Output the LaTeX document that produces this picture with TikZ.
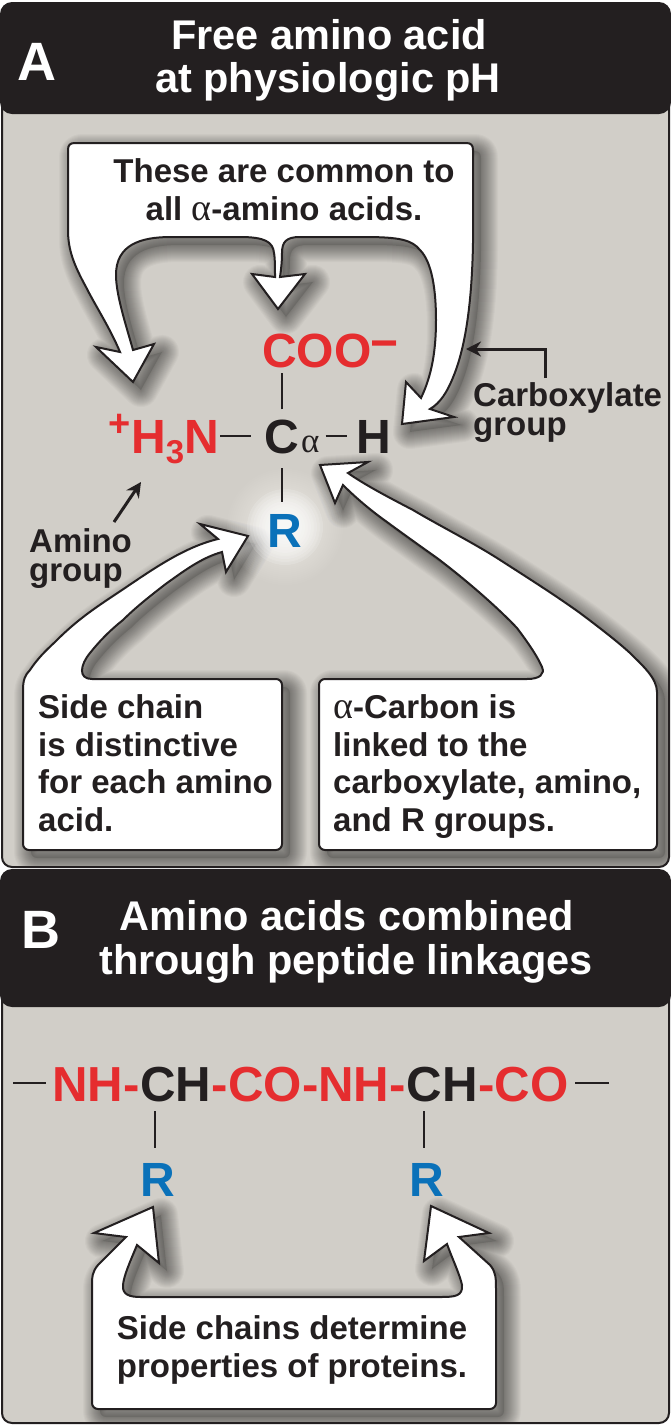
\documentclass[tikz,border=0pt]{standalone}
\usepackage{fontspec}
\setmainfont{Liberation Sans}
\newfontfamily\greekfont{Liberation Serif}
\usetikzlibrary{arrows.meta}
\definecolor{panelgray}{HTML}{D1CEC8}
\definecolor{inkblack}{HTML}{231F20}
\definecolor{groupred}{HTML}{E52D2F}
\definecolor{sideblue}{HTML}{0A71B9}
\newcommand{\fs}[1]{\fontsize{#1}{#1}\selectfont}
\newcommand{\alf}[1][38]{{\greekfont\mdseries\fontsize{#1}{#1}\selectfont α}}
\newcommand{\topcallout}{(68,150) .. controls (68,145) and (70,143) .. (75,143) -- (466,143) .. controls (471,143) and (473,145) .. (473,150) -- (473,243)
  .. controls (472,300) and (466,345) .. (454,375) .. controls (447,393) and (440,403) .. (430,409) -- (454,417) -- (402,424) -- (406,382) -- (421,398)
  .. controls (432,375) and (436,350) .. (436,320) .. controls (436,290) and (432,262) .. (420,250) .. controls (412,240) and (400,237) .. (364,237)
  -- (300,237) .. controls (286,237) and (282,242) .. (282,253) .. controls (282,262) and (281,270) .. (280,277) -- (305,274) -- (278,309) -- (252,274) -- (275,277)
  .. controls (275,268) and (275,258) .. (274,253) .. controls (273,242) and (265,237) .. (240,237) -- (171,237)
  .. controls (140,237) and (116,245) .. (116,275) .. controls (116,295) and (126,325) .. (133,350) -- (154,344) -- (133,382) -- (96,347) -- (120,352)
  .. controls (110,328) and (95,305) .. (86,287) .. controls (74,265) and (68,250) .. (68,230) -- cycle}
\newcommand{\leftcallout}{(23,690) .. controls (23,680) and (25,675) .. (30,670) .. controls (40,655) and (50,647) .. (57,640) .. controls (75,622) and (92,610) .. (110,598)
  .. controls (145,575) and (180,548) .. (218,539) -- (200,524) -- (248,536) -- (226,572) -- (222,552)
  .. controls (200,558) and (180,574) .. (167,583) .. controls (150,596) and (135,608) .. (123,620) .. controls (108,632) and (98,643) .. (90,653) .. controls (80,665) and (78,679) .. (92,679)
  [rounded corners=6] -- (282,679) -- (282,850) -- (23,850) [sharp corners] -- cycle}
\newcommand{\rightcallout}{(319,679) [sharp corners] -- (527,679) .. controls (540,679) and (545,674) .. (542,667) .. controls (538,658) and (532,648) .. (517,628) .. controls (500,610) and (470,583) .. (437,558)
  .. controls (420,546) and (395,528) .. (387,522) .. controls (370,510) and (355,497) .. (343,485) -- (335,503) -- (320,465) -- (368,462) -- (348,473)
  .. controls (365,485) and (390,498) .. (413,510) .. controls (440,526) and (470,541) .. (497,558) .. controls (525,576) and (555,595) .. (580,613) .. controls (600,628) and (618,642) .. (630,653)
  .. controls (642,665) and (657,678) .. (657,692) [rounded corners=6] -- (657,850) -- (319,850) -- cycle}
\newcommand{\bottomcallout}{(92,1409) [rounded corners=6] -- (92,1290) [sharp corners] .. controls (92,1278) and (92,1272) .. (98,1265) -- (126,1237) -- (94,1233) -- (153,1207) -- (159,1263) -- (137,1245)
  .. controls (130,1262) and (124,1275) .. (123,1285) .. controls (122,1295) and (130,1297) .. (141,1297) -- (441,1297) .. controls (455,1297) and (463,1296) .. (462,1285)
  .. controls (460,1275) and (452,1258) .. (447,1244) -- (424,1261) -- (431,1206) -- (489,1233) -- (459,1237) -- (490,1265) .. controls (496,1272) and (496,1278) .. (496,1290)
  [rounded corners=6] -- (496,1409) -- cycle}
\newcommand{\softshadow}[1]{
  \foreach \w in {2,4,...,34} {
    \draw[black,line width=\w pt,line join=round,opacity=0.026,shift={(8,8)}] #1;
  }
  \fill[black,opacity=0.12,shift={(8,8)}] #1;
}
\tikzset{
  lbl/.style={inner sep=0pt,font=\bfseries\fontsize{33}{37.5}\selectfont,text=inkblack,align=left},
  tightlbl/.style={lbl,font=\bfseries\fontsize{33}{29}\selectfont},
  headtxt/.style={inner sep=0pt,font=\bfseries\fs{41.5},text=white,anchor=base},
  headltr/.style={inner sep=0pt,font=\bfseries\fs{54},text=white,anchor=base},
  chem/.style={inner sep=0pt,font=\bfseries\fs{48},text=inkblack,anchor=base},
  chain/.style={chem,anchor=base west,font=\bfseries\fs{49.2}},
  chemred/.style={chem,text=groupred},
  chemblue/.style={chem,text=sideblue},
  bond/.style={inkblack,line width=2pt},
  pointer/.style={inkblack,line width=3pt,-{Stealth[length=15pt,width=15pt,inset=5pt]}},
  callout/.style={fill=white,draw=inkblack,line width=2pt,line join=miter},
  panel/.style={fill=panelgray},
  frame/.style={draw=inkblack,line width=2pt,rounded corners=10pt},
  headbar/.style={fill=inkblack,rounded corners=12pt}
}
\begin{document}
\begin{tikzpicture}[x=1pt,y=-1pt]
  \useasboundingbox (0,0) rectangle (671,1425);

  \begin{scope}
    \clip[rounded corners=10pt] (2,60) rectangle (669,867);
    \fill[panel] (2,60) rectangle (669,867);
    \softshadow{\topcallout}
    \softshadow{\leftcallout}
    \softshadow{\rightcallout}
    \foreach \r in {20,22,...,58} {
      \fill[white,opacity=0.035] (285,527) circle (\r);
    }
    \foreach \r in {8,11,...,38} {
      \fill[white,opacity=0.14] (285,527) circle (\r);
    }
  \end{scope}
  \draw[frame] (2,60) rectangle (669,867);
  \draw[callout] \topcallout;
  \draw[callout] \leftcallout;
  \draw[callout] \rightcallout;

  \begin{scope}
    \clip[rounded corners=10pt] (2,960) rectangle (669,1423);
    \fill[panel] (2,960) rectangle (669,1423);
    \softshadow{\bottomcallout}
  \end{scope}
  \draw[frame] (2,960) rectangle (669,1423);
  \draw[callout] \bottomcallout;

  \fill[headbar] (0,2) rectangle (671,114);
  \fill[headbar] (0,869) rectangle (671,1007);

  \node[headltr] (lettera) at (37,80) {A};
  \node[headtxt] (heada1) at (329,49) {Free amino acid};
  \node[headtxt] (heada2) at (328,92) {at physiologic pH};
  \node[headltr] (letterb) at (41,948) {B};
  \node[headtxt] (headb1) at (347,930) {Amino acids combined};
  \node[headtxt] (headb2) at (346,974) {through peptide linkages};

  \node[lbl,align=center,anchor=base] (common) at (284,220) {These are common to\\all \alf-amino acids.};

  \node[chemred,anchor=base west] (coo) at (262,367) {COO\raisebox{8pt}{\fs{48}\hspace{-1pt}−}};
  \node[chem] (calpha) at (282,453) {C};
  \node[inner sep=0pt,text=inkblack,anchor=base west] (alph) at (301,452) {\alf[35]};
  \node[chem] (hyd) at (374,453) {H};
  \node[chemred,anchor=base east] (amn) at (219,453) {\raisebox{17pt}{\fs{38}+}H\raisebox{-10pt}{\fs{33}3}N};
  \node[chemblue] (rside) at (285,547) {R};
  \draw[bond,shorten >=5pt,shorten <=10pt] (calpha.north) -- (calpha.north |- coo.south);
  \draw[bond,shorten >=14pt,shorten <=12pt] (rside.north -| calpha.south) -- (calpha.south);
  \draw[bond,shorten >=13pt,shorten <=1pt] (amn.east |- calpha.west) -- (calpha.west);
  \draw[bond,shorten >=9pt,shorten <=6pt] (alph.east |- hyd.west) -- (hyd.west);

  \node[tightlbl,anchor=base west] (carboxyl) at (473,435) {Carboxylate\\group};
  \coordinate (cbxtip) at (466,349);
  \draw[pointer] (545,378) |- (cbxtip);
  \node[tightlbl,anchor=base west] (amino) at (29,581) {Amino\\group};
  \coordinate (aminotip) at (141,482);
  \draw[pointer] (114,522) -- (aminotip);

  \node[lbl,anchor=base west] (sidetxt) at (38,831) {Side chain\\is distinctive\\for each amino\\acid.};
  \node[lbl,anchor=base west] (carbontxt) at (333,831) {\alf-Carbon is\\linked to the\\carboxylate, amino,\\and R groups.};

  \node[chain,text=groupred] (nha) at (52,1101) {NH-};
  \node[chain] (cha) at (nha.base east) {C};
  \node[chain] (hha) at (cha.base east) {H};
  \node[chain,text=groupred] (coa) at (hha.base east) {-CO-NH-};
  \node[chain] (chb) at (coa.base east) {C};
  \node[chain] (hhb) at (chb.base east) {H};
  \node[chain,text=groupred] (cob) at (hhb.base east) {-CO};
  \coordinate (leftend) at (13,1083);
  \coordinate (rightend) at (609,1083);
  \draw[bond,shorten >=6pt] (leftend) -- (nha.west |- leftend);
  \draw[bond,shorten >=6pt] (rightend) -- (cob.east |- rightend);
  \node[chemblue] (rone) at (158,1196) {R};
  \node[chemblue] (rtwo) at (427,1196) {R};
  \draw[bond,shorten >=9pt,shorten <=15pt] (155,0 |- rone.north) -- (155,0 |- cha.south);
  \draw[bond,shorten >=9pt,shorten <=15pt] (424,0 |- rtwo.north) -- (424,0 |- chb.south);

  \node[lbl,align=center,anchor=base] (proptxt) at (292,1377) {Side chains determine\\properties of proteins.};
\end{tikzpicture}
\end{document}
